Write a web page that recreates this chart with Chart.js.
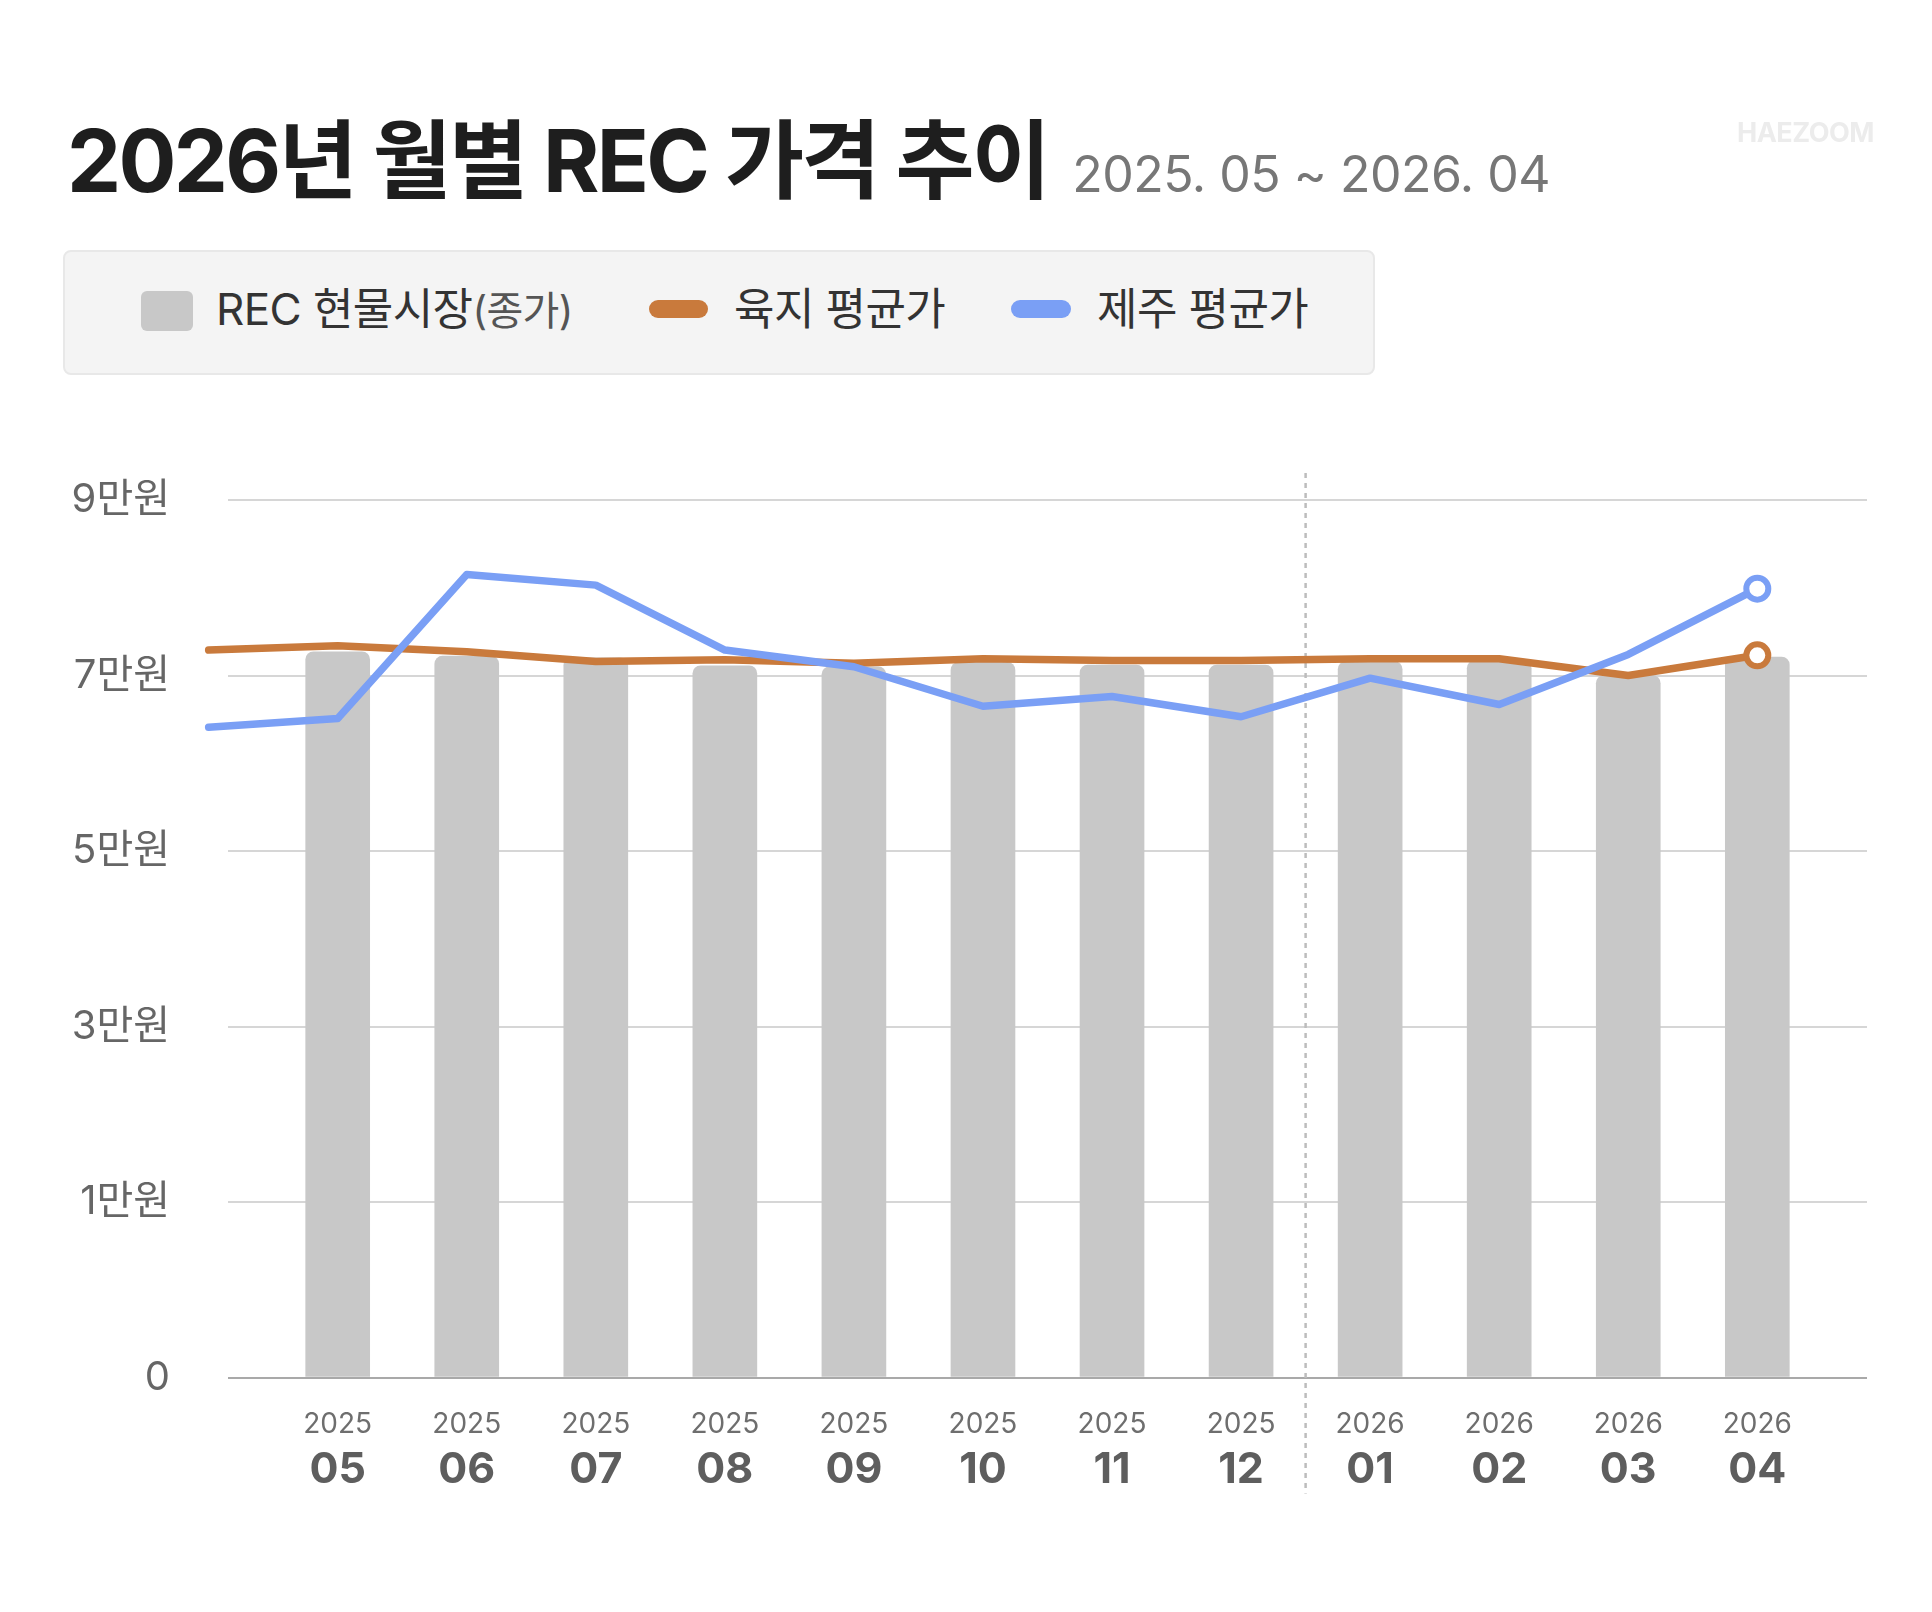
<!DOCTYPE html>
<html lang="ko">
<head>
<meta charset="utf-8">
<title>2026년 월별 REC 가격 추이</title>
<script src="https://cdn.jsdelivr.net/npm/chart.js@4.4.1/dist/chart.umd.min.js"></script>
<style>
  html, body { margin: 0; padding: 0; background: #fff; }
  body {
    width: 1932px; height: 1612px; position: relative; overflow: hidden;
    font-family: Inter, "Noto Sans CJK KR", sans-serif;
  }
  #chart { position: absolute; left: 0; top: 0; }
  .head {
    position: absolute; left: 67px; top: 118px;
    display: flex; align-items: baseline; white-space: nowrap; line-height: 1;
  }
  .head h1 {
    margin: 0; font-size: 86px; font-weight: 700; color: #1e1e1e; letter-spacing: -2.7px;
  }
  .head span {
    margin-left: 24px; font-size: 50px; font-weight: 400; color: #777; letter-spacing: -0.5px;
  }
  .mark {
    position: absolute; left: 1737px; top: 116px;
    font-size: 27px; font-weight: 700; color: #ececec; letter-spacing: -0.5px;
  }
  .legend {
    position: absolute; left: 63px; top: 250px; width: 1312px; height: 125px;
    box-sizing: border-box; background: #f4f4f4; border: 2px solid #e8e8e8; border-radius: 8px;
  }
  .sw { position: absolute; }
  .lt {
    position: absolute; top: 309px; transform: translateY(-50%);
    font-size: 44px; line-height: 1; color: #333; white-space: nowrap; letter-spacing: -0.6px;
  }
  .lt small { font-size: 40px; color: #555; letter-spacing: -0.6px; }
</style>
</head>
<body>
<canvas id="chart" width="1932" height="1612"></canvas>

<div class="head">
  <h1>2026년 월별 REC 가격 추이</h1>
  <span>2025. 05 ~ 2026. 04</span>
</div>
<div class="mark">HAEZOOM</div>

<div class="legend"></div>
<div class="sw" style="left:141px;top:291px;width:52px;height:40px;background:#c8c8c8;border-radius:6px;"></div>
<div class="lt" style="left:216px;">REC 현물시장<small>(종가)</small></div>
<div class="sw" style="left:649px;top:300px;width:59px;height:18px;background:#c97a3c;border-radius:9px;"></div>
<div class="lt" style="left:734px;">육지 평균가</div>
<div class="sw" style="left:1011px;top:300px;width:60px;height:18px;background:#7a9ff5;border-radius:9px;"></div>
<div class="lt" style="left:1097px;">제주 평균가</div>

<script>
// 단위: 만원
const months = ["05", "06", "07", "08", "09", "10", "11", "12", "01", "02", "03", "04"];
const years = ["2025", "2025", "2025", "2025", "2025", "2025", "2025", "2025", "2026", "2026", "2026", "2026"];

const spotPrice = [7.27, 7.22, 7.2, 7.11, 7.1, 7.15, 7.12, 7.12, 7.16, 7.17, 7.0, 7.21];

// 평균가 선은 한 달 앞(2025.04)부터 이어짐
const landAvg = [7.29, 7.34, 7.27, 7.16, 7.18, 7.14, 7.19, 7.17, 7.17, 7.19, 7.19, 7.0, 7.23];
const jejuAvg = [6.41, 6.51, 8.15, 8.03, 7.29, 7.1, 6.65, 6.76, 6.53, 6.97, 6.67, 7.24, 7.99];

const yTicks = [-1, 1, 3, 5, 7, 9];
const yTickLabels = ["0", "1만원", "3만원", "5만원", "7만원", "9만원"];

const yearDivider = 7.5; // 2025.12 | 2026.01

const FONT = "Inter, 'Noto Sans CJK KR', sans-serif";

const dividerPlugin = {
    id: "divider",
    beforeDatasetsDraw(chart) {
        const { ctx, chartArea } = chart;
        const x = chart.scales.x.getPixelForValue(yearDivider);
        ctx.save();
        ctx.strokeStyle = "#bdbdbd";
        ctx.lineWidth = 2.5;
        ctx.setLineDash([5, 5]);
        ctx.beginPath();
        ctx.moveTo(x, chartArea.top - 27);
        ctx.lineTo(x, chartArea.bottom + 116);
        ctx.stroke();
        ctx.restore();
    }
};

const lastPoint = (n) => (c) => (c.dataIndex === n - 1 ? 11 : 0);

new Chart(document.getElementById("chart"), {
    type: "bar",
    data: {
        datasets: [
            {
                type: "line",
                label: "제주 평균가",
                data: jejuAvg.map((v, i) => ({ x: i - 1, y: v })),
                borderColor: "#7a9ff5",
                borderWidth: 7.5,
                tension: 0,
                borderJoinStyle: "round",
                borderCapStyle: "round",
                pointRadius: lastPoint(jejuAvg.length),
                pointHoverRadius: lastPoint(jejuAvg.length),
                pointBackgroundColor: "#fff",
                pointBorderColor: "#7a9ff5",
                pointBorderWidth: 6,
                clip: false,
                order: 0
            },
            {
                type: "line",
                label: "육지 평균가",
                data: landAvg.map((v, i) => ({ x: i - 1, y: v })),
                borderColor: "#c97a3c",
                borderWidth: 7.5,
                tension: 0,
                borderJoinStyle: "round",
                borderCapStyle: "round",
                pointRadius: lastPoint(landAvg.length),
                pointHoverRadius: lastPoint(landAvg.length),
                pointBackgroundColor: "#fff",
                pointBorderColor: "#c97a3c",
                pointBorderWidth: 6,
                clip: false,
                order: 1
            },
            {
                type: "bar",
                label: "REC 현물시장(종가)",
                data: spotPrice.map((v, i) => ({ x: i, y: v })),
                base: -1,
                backgroundColor: "#c8c8c8",
                barThickness: 64,
                borderRadius: { topLeft: 8, topRight: 8, bottomLeft: 0, bottomRight: 0 },
                borderSkipped: false,
                order: 2
            }
        ]
    },
    options: {
        responsive: false,
        animation: false,
        devicePixelRatio: 1,
        layout: { padding: { top: 500, right: 65, bottom: 0, left: 0 } },
        plugins: {
            legend: { display: false },
            tooltip: { enabled: false }
        },
        scales: {
            x: {
                type: "linear",
                offset: false,
                min: -0.85,
                max: 11.85,
                weight: 0,
                afterBuildTicks: (s) => { s.ticks = months.map((_, i) => ({ value: i })); },
                afterFit: (s) => { s.height = 58; },
                grid: { display: false, offset: false },
                border: { display: false },
                ticks: {
                    autoSkip: false,
                    maxRotation: 0,
                    padding: 25,
                    color: "#6e6e6e",
                    font: { family: FONT, size: 28, weight: 400, lineHeight: 1 },
                    callback: (v) => years[v]
                }
            },
            xMonth: {
                type: "linear",
                position: "bottom",
                offset: false,
                min: -0.85,
                max: 11.85,
                weight: 1,
                afterBuildTicks: (s) => { s.ticks = months.map((_, i) => ({ value: i })); },
                afterFit: (s) => { s.height = 176.5; },
                grid: { display: false, offset: false },
                border: { display: false },
                ticks: {
                    autoSkip: false,
                    maxRotation: 0,
                    padding: 5,
                    color: "#5e5e5e",
                    font: { family: FONT, size: 43, weight: 700, lineHeight: 1 },
                    callback: (v) => months[v]
                }
            },
            y: {
                min: -1,
                max: 9,
                afterBuildTicks: (s) => { s.ticks = yTicks.map((v) => ({ value: v })); },
                afterFit: (s) => { s.width = 228; },
                grid: {
                    color: (c) => (c.tick && c.tick.value === -1 ? "#a9a9a9" : "#d6d6d6"),
                    lineWidth: 2,
                    drawTicks: false
                },
                border: { display: false },
                ticks: {
                    padding: 58,
                    color: "#666",
                    font: { family: FONT, size: 40, weight: 400 },
                    callback: (v) => yTickLabels[yTicks.indexOf(v)]
                }
            }
        }
    },
    plugins: [dividerPlugin]
});
</script>
</body>
</html>
